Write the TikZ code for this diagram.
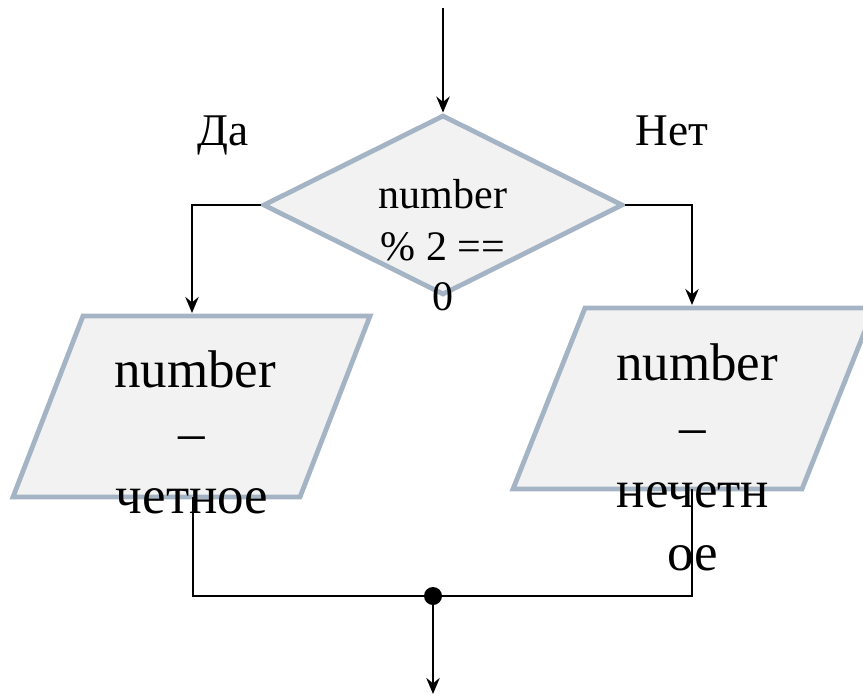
\documentclass[tikz,border=0pt]{standalone}
\usepackage{fontspec}
\setmainfont{Liberation Serif}
\usetikzlibrary{shapes.geometric,arrows.meta,calc}
\definecolor{shapeborder}{RGB}{164,180,196}
\definecolor{shapefill}{RGB}{242,242,242}
\begin{document}
\begin{tikzpicture}[x=0.75pt,y=-0.75pt,
  conn/.style={line width=1.9pt, draw=black},
  arr/.style={conn, -{Stealth[length=12pt,width=10pt,inset=4pt]}},
  decision/.style={diamond, draw=shapeborder, fill=shapefill, line width=3.6pt, minimum width=270pt, minimum height=135pt, inner sep=0pt, shape aspect=2},
  iobox/.style={draw=shapeborder, fill=shapefill, line width=3.6pt, line join=miter},
  dtext/.style={anchor=base, inner sep=0pt, font=\fontsize{31.5}{38}\selectfont},
  ptext/.style={anchor=base, inner sep=0pt, font=\fontsize{39.75}{47}\selectfont},
  ltext/.style={anchor=base, inner sep=0pt, font=\fontsize{34}{40}\selectfont},
]
\useasboundingbox (0,0) rectangle (863,696);
\clip (0,0) rectangle (863,696);

% decision
\node[decision] (D) at (443,205) {};

% parallelograms
\coordinate (L1) at (83,316);
\coordinate (L2) at (370,316);
\coordinate (L3) at (300,497);
\coordinate (L4) at (13,497);
\draw[iobox] (L1) -- (L2) -- (L3) -- (L4) -- cycle;
\coordinate (R1) at (585,308);
\coordinate (R2) at (874,308);
\coordinate (R3) at (802,489);
\coordinate (R4) at (513,489);
\draw[iobox] (R1) -- (R2) -- (R3) -- (R4) -- cycle;

% connectors
\coordinate (start) at (443,8);
\draw[arr] (start) -- (D.north);
\coordinate (Lin) at (192,313);
\draw[arr] (D.west) -| (Lin);
\coordinate (Rin) at (692,305);
\draw[arr] (D.east) -| (Rin);
\coordinate (Lout) at (193,497);
\coordinate (Rout) at (692,489);
\node[circle, fill=black, inner sep=0pt, minimum size=13.5pt] (J) at (433,596) {};
\draw[conn] (Lout) |- (J);
\draw[conn] (Rout) |- (J);
\coordinate (end) at (433,694);
\draw[arr] (J) -- (end);

% diamond text
\node[dtext] (d1) at (443,208) {number};
\node[dtext] (d2) at (443,260) {\% 2 ==};
\node[dtext] (d3) at (443,310) {0};

% left text
\node[ptext] (l1) at (195,387) {number};
\node[ptext] (l2) at (192,450) {–};
\node[ptext] (l3) at (192,513) {четное};

% right text
\node[ptext] (r1) at (697,380) {number};
\node[ptext] (r2) at (693,444) {–};
\node[ptext] (r3) at (693,507) {нечетн};
\node[ptext] (r4) at (693,570) {ое};

% labels
\node[ltext] (yes) at (223,145) {Да};
\node[ltext] (no) at (672,145) {Нет};
\end{tikzpicture}
\end{document}
